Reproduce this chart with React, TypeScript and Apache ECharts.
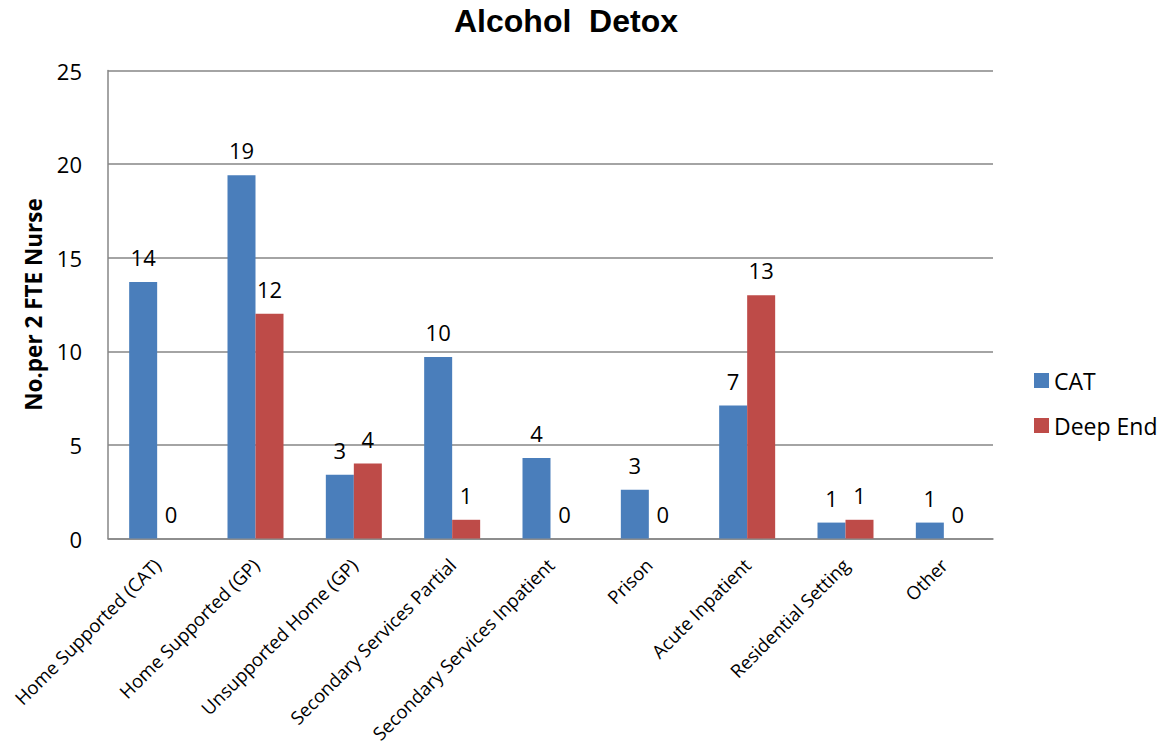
import React, { useEffect, useRef } from "react";
import * as echarts from "echarts";

// Treatment settings for alcohol detox, per 2 FTE nurses
const categories = [
  "Home Supported (CAT)",
  "Home Supported (GP)",
  "Unsupported Home (GP)",
  "Secondary Services Partial",
  "Secondary Services Inpatient",
  "Prison",
  "Acute Inpatient",
  "Residential Setting",
  "Other",
];
const catValues = [13.7, 19.4, 3.4, 9.7, 4.3, 2.6, 7.1, 0.85, 0.85];
const deepEndValues = [0, 12, 4, 1, 0, 0, 13, 1, 0];
const yTicks = { min: 0, max: 25, interval: 5 };

const BODY_FONT = "'Open Sans', 'Noto Sans', sans-serif";
const TITLE_FONT = "'Liberation Sans', Arial, sans-serif";

export default function App() {
  const ref = useRef<HTMLDivElement>(null);

  useEffect(() => {
    if (!ref.current) return;
    const chart = echarts.init(ref.current, undefined, { renderer: "svg" });

    const valueLabel = {
      show: true,
      position: "top" as const,
      distance: 14,
      color: "#000",
      fontSize: 22,
      fontFamily: BODY_FONT,
      formatter: (p: any) => String(Math.round(p.value)),
    };

    chart.setOption({
      animation: false,
      backgroundColor: "#fff",
      title: {
        text: "Alcohol  Detox",
        left: 561,
        textAlign: "center",
        top: 0,
        textStyle: {
          fontFamily: TITLE_FONT,
          fontWeight: "bold",
          fontSize: 32,
          color: "#000",
        },
      },
      legend: {
        orient: "vertical",
        left: 1029,
        top: 364,
        itemWidth: 15,
        itemHeight: 15,
        itemGap: 22,
        icon: "rect",
        textStyle: { fontFamily: BODY_FONT, fontSize: 23, color: "#000" },
        data: ["CAT", "Deep End"],
      },
      grid: {
        left: 108,
        right: 176,
        top: 70.5,
        bottom: 208.5,
        containLabel: false,
        outerBoundsMode: "none",
      },
      xAxis: {
        type: "category",
        data: categories,
        axisLine: { lineStyle: { color: "#868686", width: 1.5 } },
        axisTick: { show: false },
        axisLabel: {
          rotate: 45,
          interval: 0,
          margin: 23,
          color: "#000",
          fontSize: 18.5,
          fontFamily: BODY_FONT,
        },
      },
      yAxis: {
        type: "value",
        min: yTicks.min,
        max: yTicks.max,
        interval: yTicks.interval,
        name: "No.per 2 FTE Nurse",
        nameLocation: "middle",
        nameGap: 63,
        nameRotate: 90,
        nameTextStyle: {
          fontFamily: BODY_FONT,
          fontWeight: "bold",
          fontSize: 22.5,
          color: "#000",
        },
        axisLine: { show: true, lineStyle: { color: "#868686", width: 1.5 } },
        axisTick: { show: false },
        splitLine: { lineStyle: { color: "#868686", width: 1.5 } },
        axisLabel: {
          margin: 26,
          color: "#000",
          fontSize: 22,
          fontFamily: BODY_FONT,
        },
      },
      series: [
        {
          name: "CAT",
          type: "bar",
          data: catValues,
          barWidth: 28,
          barGap: "0%",
          itemStyle: { color: "#4A7EBB" },
          label: valueLabel,
        },
        {
          name: "Deep End",
          type: "bar",
          data: deepEndValues,
          barWidth: 28,
          barGap: "0%",
          itemStyle: { color: "#BE4B48" },
          label: valueLabel,
        },
      ],
    });

    return () => chart.dispose();
  }, []);

  return (
    <div
      ref={ref}
      style={{ position: "absolute", left: 0, top: 0, width: 1169, height: 747 }}
    />
  );
}
